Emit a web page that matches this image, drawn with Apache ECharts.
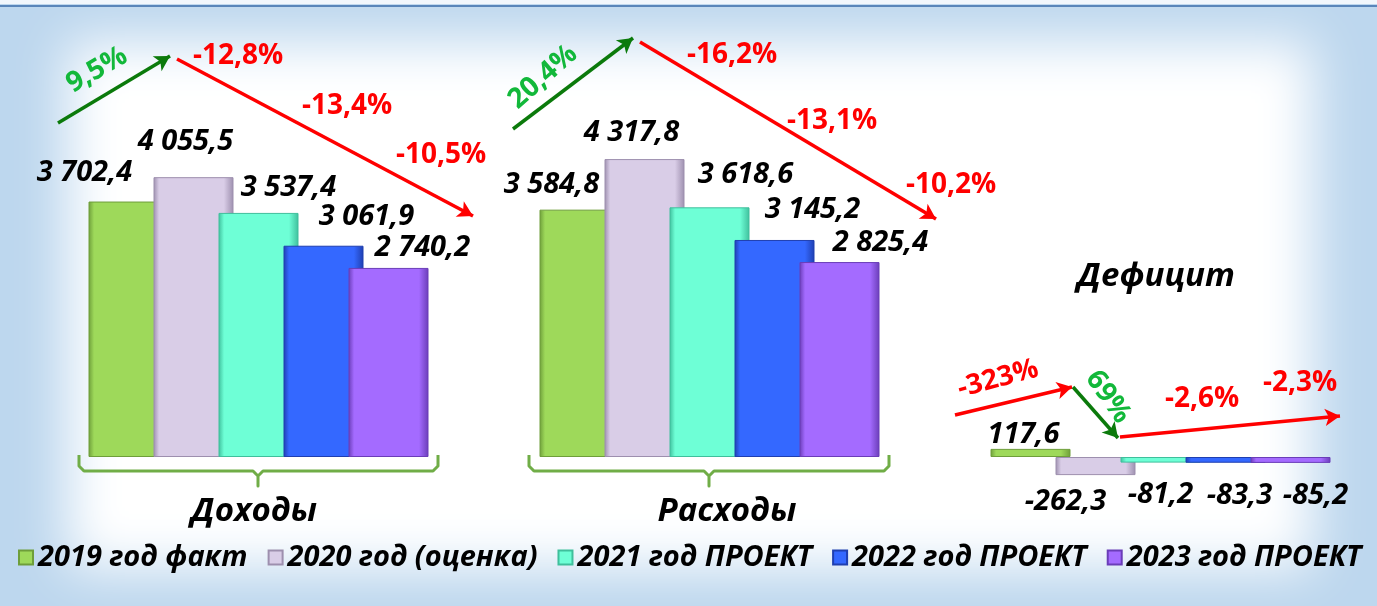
<!DOCTYPE html>
<html>
<head>
<meta charset="utf-8">
<script src="https://cdn.jsdelivr.net/npm/echarts@6/dist/echarts.min.js"></script>
<style>html,body{margin:0;padding:0;background:#bdd7ee}#c{width:1377px;height:606px}</style>
</head>
<body>
<div id="c"></div>
<script>
// ---- data ----
const categories = ['Доходы', 'Расходы', 'Дефицит'];
const seriesNames = ['2019 год факт', '2020 год (оценка)', '2021 год ПРОЕКТ', '2022 год ПРОЕКТ', '2023 год ПРОЕКТ'];
const v2019 = [3702.4, 3584.8, 117.6];
const v2020 = [4055.5, 4317.8, -262.3];
const v2021 = [3537.4, 3618.6, -81.2];
const v2022 = [3061.9, 3145.2, -83.3];
const v2023 = [2740.2, 2825.4, -85.2];
const incomePct = ['9,5%', '-12,8%', '-13,4%', '-10,5%'];
const expensePct = ['20,4%', '-16,2%', '-13,1%', '-10,2%'];
const deficitPct = ['-323%', '69%', '-2,6%', '-2,3%'];

// ---- styling / layout ----
const values = [v2019, v2020, v2021, v2022, v2023];
const baseColors = ['#9ED95A', '#D9CDE7', '#6EFFD6', '#3468FF', '#A46BFF'];
const edgeColors = ['#6E9E3A', '#9D8FAE', '#3FBF9C', '#1F3FB0', '#6A3DB8'];
const labelShift = [
  [[-44, 29], [-28, 25], [-7, 14]],
  [[-8, 35], [-13, 26], [-30, 27]],
  [[30, 25], [36, 33], [0, 32]],
  [[43, 29], [38, 30], [14, 33]],
  [[34, 20], [41, 19], [25, 33]]
];
const FONT = '"Open Sans", "Noto Sans", sans-serif';

function fmt(v) {
  const s = Math.abs(v).toFixed(1).split('.');
  const ip = s[0].replace(/\B(?=(\d{3})+(?!\d))/g, ' ');
  return (v < 0 ? '-' : '') + ip + ',' + s[1];
}

const chart = echarts.init(document.getElementById('c'), null, {renderer: 'canvas'});

const series = values.map((arr, si) => ({
  name: seriesNames[si],
  type: 'bar',
  barWidth: 80,
  barGap: '-18.75%',
  animation: false,
  itemStyle: {
    color: {
      type: 'linear', x: 0, y: 0, x2: 1, y2: 0,
      colorStops: [
        {offset: 0, color: edgeColors[si]},
        {offset: 0.07, color: baseColors[si]},
        {offset: 0.88, color: baseColors[si]},
        {offset: 1, color: edgeColors[si]}
      ]
    },
    borderColor: edgeColors[si],
    borderWidth: 1
  },
  data: arr.map((v, ci) => ({
    value: v,
    label: {
      show: true,
      position: v >= 0 ? 'top' : 'bottom',
      distance: 0,
      verticalAlign: 'middle',
      align: 'center',
      offset: [labelShift[si][ci][0], v >= 0 ? -labelShift[si][ci][1] : labelShift[si][ci][1]],
      formatter: () => fmt(v),
      fontFamily: FONT,
      fontSize: 29,
      fontWeight: 'bold',
      fontStyle: 'italic',
      color: '#000'
    }
  }))
}));

// arrows (annotation overlay)
const G = '#0B7A0B', R = '#FF0000';
function arrow(x1, y1, x2, y2, c) {
  return [{x: x1, y: y1, lineStyle: {color: c}}, {x: x2, y: y2}];
}
series[0].markLine = {
  silent: true,
  animation: false,
  symbol: ['none', 'arrow'],
  symbolSize: [13, 15],
  label: {show: false},
  lineStyle: {type: 'solid', width: 3.5},
  data: [
    arrow(58, 123, 170, 56, G),
    arrow(177, 59, 473, 216, R),
    arrow(513, 129, 633, 38, G),
    arrow(640, 42, 936, 219, R),
    arrow(955, 415, 1072, 387, R),
    arrow(1073, 387, 1118, 438, G),
    arrow(1120, 437, 1340, 416, R)
  ]
};

function pctText(txt, x, y, color, rot) {
  return {
    type: 'text', x: x, y: y, rotation: rot || 0, z: 50,
    style: {text: txt, fill: color, font: 'bold 28px ' + FONT, align: 'center', verticalAlign: 'middle'}
  };
}
const PG = '#12B83A';
function bracket(x1, xm, x2) {
  return {
    type: 'polyline', z: 5,
    shape: {points: [[x1, 455], [x1, 466], [x1 + 5, 471], [xm - 5, 471], [xm, 476], [xm, 486], [xm, 476], [xm + 5, 471], [x2 - 5, 471], [x2, 466], [x2, 455]]},
    style: {stroke: '#70AD47', lineWidth: 3, fill: null, lineJoin: 'round'}
  };
}
function catText(txt, x, y) {
  return {
    type: 'text', x: x, y: y, z: 50,
    style: {text: txt, fill: '#000', font: 'italic bold 33px ' + FONT, align: 'center', verticalAlign: 'middle'}
  };
}

const graphic = [
  {type: 'rect', z: -100, shape: {x: 0, y: 0, width: 1377, height: 606}, style: {fill: '#BDD7EE'}},
  {type: 'rect', z: -99, shape: {x: 68 + 3000, y: 42, width: 1244, height: 526}, style: {fill: '#fff', shadowBlur: 50, shadowColor: '#fff', shadowOffsetX: -3000}},
  {type: 'rect', z: -98, shape: {x: 0, y: 0, width: 1377, height: 4}, style: {fill: '#F2F7FC'}},
  {type: 'rect', z: -98, shape: {x: 0, y: 5, width: 1377, height: 2}, style: {fill: '#5A86BA'}},
  bracket(79, 258, 438),
  bracket(529, 709, 889),
  catText(categories[0], 254, 512),
  catText(categories[1], 727, 512),
  catText(categories[2], 1156, 277),
  pctText(incomePct[0], 97, 70, PG, 0.52),
  pctText(incomePct[1], 238, 56, R),
  pctText(incomePct[2], 347, 106, R),
  pctText(incomePct[3], 441, 155, R),
  pctText(expensePct[0], 543, 77, PG, 0.72),
  pctText(expensePct[1], 732, 55, R),
  pctText(expensePct[2], 832, 121, R),
  pctText(expensePct[3], 951, 185, R),
  pctText(deficitPct[0], 998, 379, R, 0.26),
  pctText(deficitPct[1], 1108, 397, PG, -0.96),
  pctText(deficitPct[2], 1202, 399, R),
  pctText(deficitPct[3], 1300, 383, R)
];

chart.setOption({
  animation: false,
  backgroundColor: 'transparent',
  graphic: graphic,
  legend: {
    show: true,
    selectedMode: false,
    left: 13,
    top: 538,
    itemWidth: 14,
    itemHeight: 14,
    itemGap: 20,
    icon: 'rect',
    textStyle: {fontFamily: FONT, fontSize: 29, fontWeight: 'bold', fontStyle: 'italic', color: '#000', padding: [0, 0, 0, 0]},
    data: seriesNames
  },
  grid: {left: 33, top: 112, width: 1353, height: 414, outerBoundsMode: 'none', containLabel: false},
  xAxis: {
    type: 'category',
    data: categories,
    axisLine: {show: false}, axisTick: {show: false}, axisLabel: {show: false}, splitLine: {show: false}
  },
  yAxis: {
    type: 'value', min: -1000, max: 5000, interval: 1000,
    axisLine: {show: false}, axisTick: {show: false}, axisLabel: {show: false}, splitLine: {show: false}
  },
  series: series
});
</script>
</body>
</html>
